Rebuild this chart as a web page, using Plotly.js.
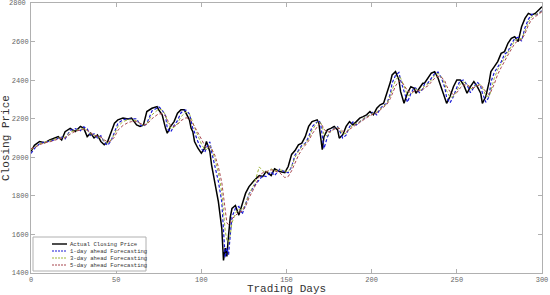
<!DOCTYPE html>
<html>
<head>
<meta charset="utf-8">
<script src="https://cdn.plot.ly/plotly-3.0.1.min.js"></script>
<style>
  html, body { margin: 0; padding: 0; background: #fff; }
  #chart { width: 550px; height: 295px; }
</style>
</head>
<body>
<div id="chart"></div>
<script>
// Trading days and closing prices
const days = [0, 2, 5, 8, 11, 16, 18, 20, 23, 26, 29, 31, 33, 35, 37, 39, 41, 43, 45, 47, 49, 51, 54, 57, 59,
    62, 64, 66, 68, 71, 74, 75, 77, 79, 80, 82, 84, 86, 88, 90, 91, 93, 94, 95, 96, 98, 100, 102, 103, 105,
    106, 108, 110, 112, 113, 114, 115, 116, 117, 118, 120, 122, 124, 126, 128, 131, 134, 136, 138, 141, 143,
    146, 149, 151, 153, 155, 157, 159, 161, 163, 165, 168, 169, 170, 171, 172, 174, 176, 178, 180, 181, 183,
    185, 187, 189, 191, 193, 195, 197, 199, 201, 203, 205, 207, 209, 211, 212, 214, 216, 217, 219, 221, 223,
    225, 226, 228, 230, 231, 233, 235, 237, 239, 241, 243, 244, 246, 248, 250, 252, 254, 256, 258, 260, 262,
    264, 265, 267, 269, 270, 272, 274, 276, 278, 280, 282, 284, 286, 288, 290, 292, 294, 296, 298, 300];

const actual = [2030, 2062, 2082, 2075, 2090, 2107, 2090, 2133, 2150, 2133, 2160, 2150, 2107, 2125, 2100, 2116,
    2082, 2065, 2082, 2133, 2177, 2194, 2203, 2199, 2203, 2168, 2160, 2168, 2237, 2254, 2263, 2246, 2220, 2150,
    2125, 2160, 2185, 2229, 2246, 2246, 2229, 2194, 2150, 2133, 2082, 2047, 2021, 2047, 2082, 2030, 1961, 1874,
    1770, 1633, 1465, 1529, 1486, 1598, 1690, 1735, 1750, 1700, 1760, 1814, 1848, 1880, 1905, 1900, 1926, 1905,
    1940, 1926, 1920, 1952, 2015, 2035, 2065, 2073, 2107, 2160, 2185, 2194, 2177, 2107, 2039, 2107, 2142, 2150,
    2160, 2142, 2099, 2116, 2160, 2185, 2168, 2185, 2203, 2211, 2220, 2237, 2220, 2254, 2272, 2280, 2332, 2390,
    2427, 2444, 2401, 2340, 2280, 2332, 2366, 2358, 2332, 2358, 2384, 2384, 2410, 2436, 2444, 2410, 2358, 2306,
    2280, 2315, 2366, 2401, 2401, 2375, 2332, 2366, 2392, 2366, 2332, 2280, 2315, 2392, 2444, 2470, 2496, 2539,
    2548, 2591, 2617, 2625, 2600, 2677, 2720, 2746, 2738, 2746, 2764, 2781];

const ahead1 = [2020, 2045, 2070, 2080, 2082, 2100, 2105, 2095, 2140, 2148, 2138, 2158, 2148, 2110, 2122, 2100,
    2112, 2078, 2062, 2085, 2135, 2175, 2195, 2200, 2198, 2200, 2168, 2160, 2175, 2240, 2255, 2262, 2245, 2215,
    2150, 2130, 2165, 2190, 2230, 2245, 2245, 2225, 2190, 2150, 2130, 2080, 2045, 2025, 2050, 2080, 2030, 1960,
    1875, 1770, 1640, 1480, 1530, 1495, 1600, 1690, 1735, 1745, 1705, 1760, 1810, 1850, 1880, 1905, 1900, 1925,
    1905, 1938, 1925, 1920, 1950, 2012, 2035, 2062, 2072, 2105, 2158, 2185, 2192, 2177, 2110, 2045, 2105, 2140,
    2150, 2158, 2142, 2100, 2115, 2158, 2183, 2168, 2185, 2200, 2210, 2220, 2235, 2220, 2252, 2270, 2280, 2330,
    2385, 2425, 2440, 2400, 2340, 2285, 2330, 2362, 2358, 2335, 2355, 2380, 2385, 2408, 2434, 2442, 2410, 2360,
    2310, 2282, 2315, 2362, 2398, 2400, 2375, 2335, 2365, 2390, 2368, 2335, 2285, 2315, 2390, 2440, 2468, 2494,
    2535, 2548, 2588, 2615, 2622, 2602, 2672, 2715, 2742, 2738, 2745, 2762];

const ahead3 = [2040, 2050, 2070, 2078, 2085, 2100, 2100, 2105, 2130, 2140, 2145, 2150, 2140, 2120, 2115, 2108,
    2100, 2085, 2072, 2090, 2120, 2160, 2185, 2195, 2195, 2190, 2175, 2165, 2175, 2220, 2245, 2250, 2245, 2220,
    2185, 2150, 2155, 2175, 2210, 2230, 2235, 2225, 2205, 2180, 2155, 2110, 2070, 2040, 2040, 2060, 2045, 1990,
    1920, 1820, 1720, 1620, 1570, 1560, 1600, 1660, 1710, 1730, 1725, 1760, 1810, 1860, 1950, 1930, 1920, 1940,
    1930, 1935, 1930, 1925, 1950, 2000, 2030, 2055, 2070, 2095, 2140, 2180, 2185, 2180, 2160, 2120, 2110, 2135,
    2150, 2155, 2150, 2120, 2125, 2150, 2170, 2175, 2185, 2200, 2210, 2220, 2230, 2235, 2250, 2265, 2280, 2320,
    2350, 2400, 2420, 2410, 2370, 2320, 2325, 2345, 2355, 2345, 2355, 2370, 2380, 2400, 2425, 2435, 2415, 2380,
    2345, 2310, 2315, 2345, 2380, 2390, 2380, 2355, 2360, 2380, 2375, 2360, 2320, 2315, 2350, 2410, 2455, 2485,
    2520, 2545, 2575, 2605, 2615, 2615, 2655, 2700, 2730, 2740, 2745, 2760];

const ahead5 = [2045, 2050, 2065, 2075, 2080, 2095, 2100, 2100, 2120, 2135, 2140, 2145, 2140, 2125, 2115, 2110,
    2105, 2090, 2080, 2085, 2105, 2140, 2165, 2180, 2185, 2185, 2175, 2168, 2170, 2200, 2220, 2225, 2225, 2215,
    2195, 2165, 2160, 2170, 2190, 2200, 2205, 2200, 2190, 2175, 2160, 2130, 2095, 2060, 2050, 2055, 2045, 2010,
    1950, 1870, 1800, 1720, 1660, 1650, 1660, 1680, 1700, 1715, 1720, 1745, 1790, 1840, 1900, 1920, 1925, 1935,
    1930, 1920, 1895, 1900, 1930, 1975, 2010, 2040, 2060, 2085, 2120, 2160, 2170, 2175, 2165, 2145, 2130, 2135,
    2145, 2150, 2150, 2135, 2130, 2145, 2160, 2170, 2180, 2195, 2205, 2215, 2225, 2230, 2245, 2260, 2275, 2305,
    2330, 2370, 2395, 2395, 2375, 2345, 2335, 2340, 2345, 2345, 2350, 2360, 2370, 2390, 2410, 2420, 2415, 2395,
    2370, 2340, 2325, 2335, 2360, 2375, 2375, 2365, 2360, 2370, 2375, 2365, 2340, 2325, 2340, 2380, 2430, 2465,
    2500, 2530, 2560, 2590, 2605, 2610, 2640, 2685, 2715, 2730, 2740, 2755];

const seriesNames = ['Actual Closing Price', '1-day ahead Forecasting', '3-day ahead Forecasting', '5-day ahead Forecasting'];
const xTicks = [0, 50, 100, 150, 200, 250, 300];
const yTicks = [1400, 1600, 1800, 2000, 2200, 2400, 2600, 2800];

const mono = 'Liberation Mono, Courier New, monospace';
const colors = ['#000000', '#1a1ad6', '#9fb53a', '#a8474f'];
const widths = [1.5, 1.2, 1, 1];
const dashes = ['solid', '3px,2px', '3px,2px', '3px,2px'];
const values = [actual, ahead1, ahead3, ahead5];

const data = values.map((v, i) => ({
    name: seriesNames[i],
    x: days,
    y: v,
    type: 'scatter',
    mode: 'lines',
    showlegend: false,
    line: { color: colors[i], width: widths[i], dash: dashes[i] }
}));

// plot area in pixels: left 31, right 542, top 3, bottom 273
const W = 550, H = 295, L = 31, R = 8, T = 3, B = 22;
const px = (x) => (x - L) / (W - L - R);
const py = (y) => (H - B - y) / (H - T - B);

// MATLAB-like legend box drawn with shapes and annotations (plotly's own legend is too tall here)
const shapes = [{
    type: 'rect', xref: 'paper', yref: 'paper',
    x0: px(33), x1: px(146), y0: py(271), y1: py(237),
    fillcolor: '#ffffff', line: { color: '#b0b0b0', width: 1 }, layer: 'above'
}];
const annotations = [];
const rowY = [244, 251, 258, 265];
seriesNames.forEach((name, i) => {
    shapes.push({
        type: 'line', xref: 'paper', yref: 'paper',
        x0: px(52), x1: px(67), y0: py(rowY[i]), y1: py(rowY[i]),
        line: { color: colors[i], width: i === 0 ? 1.4 : 1.2, dash: i === 0 ? 'solid' : '2px,1px' },
        layer: 'above'
    });
    annotations.push({
        xref: 'paper', yref: 'paper', x: px(68), y: py(rowY[i]),
        xanchor: 'left', yanchor: 'middle', showarrow: false,
        text: name, font: { family: mono, size: 5.6, color: '#333333' }
    });
});

// top tick label sits on the plot's upper edge; plotly drops it there, so put it in as text
annotations.push({
    xref: 'paper', yref: 'y', x: 0, y: yTicks[yTicks.length - 1],
    xanchor: 'right', yanchor: 'middle', xshift: -3, showarrow: false,
    text: String(yTicks[yTicks.length - 1]), font: { family: mono, size: 7, color: '#666666' }
});

const axisCommon = {
    showgrid: false,
    zeroline: false,
    showline: true,
    linecolor: '#b0b0b0',
    linewidth: 1,
    mirror: 'allticks',
    ticks: 'inside',
    ticklen: 4,
    tickcolor: '#b0b0b0',
    tickfont: { family: mono, size: 7, color: '#666666' }
};

const layout = {
    width: W,
    height: H,
    margin: { l: L, r: R, t: T, b: B },
    paper_bgcolor: '#ffffff',
    plot_bgcolor: '#ffffff',
    showlegend: false,
    xaxis: Object.assign({}, axisCommon, {
        range: [0, 300],
        tickvals: xTicks,
        title: { text: 'Trading Days', font: { family: mono, size: 11, color: '#333333' }, standoff: 2 }
    }),
    yaxis: Object.assign({}, axisCommon, {
        range: [1400, 2800],
        tickvals: yTicks.slice(0, -1),
        title: { text: 'Closing Price', font: { family: mono, size: 11, color: '#333333' }, standoff: 2 }
    }),
    shapes: shapes,
    annotations: annotations
};

Plotly.newPlot('chart', data, layout, { displayModeBar: false, staticPlot: true });
</script>
</body>
</html>
